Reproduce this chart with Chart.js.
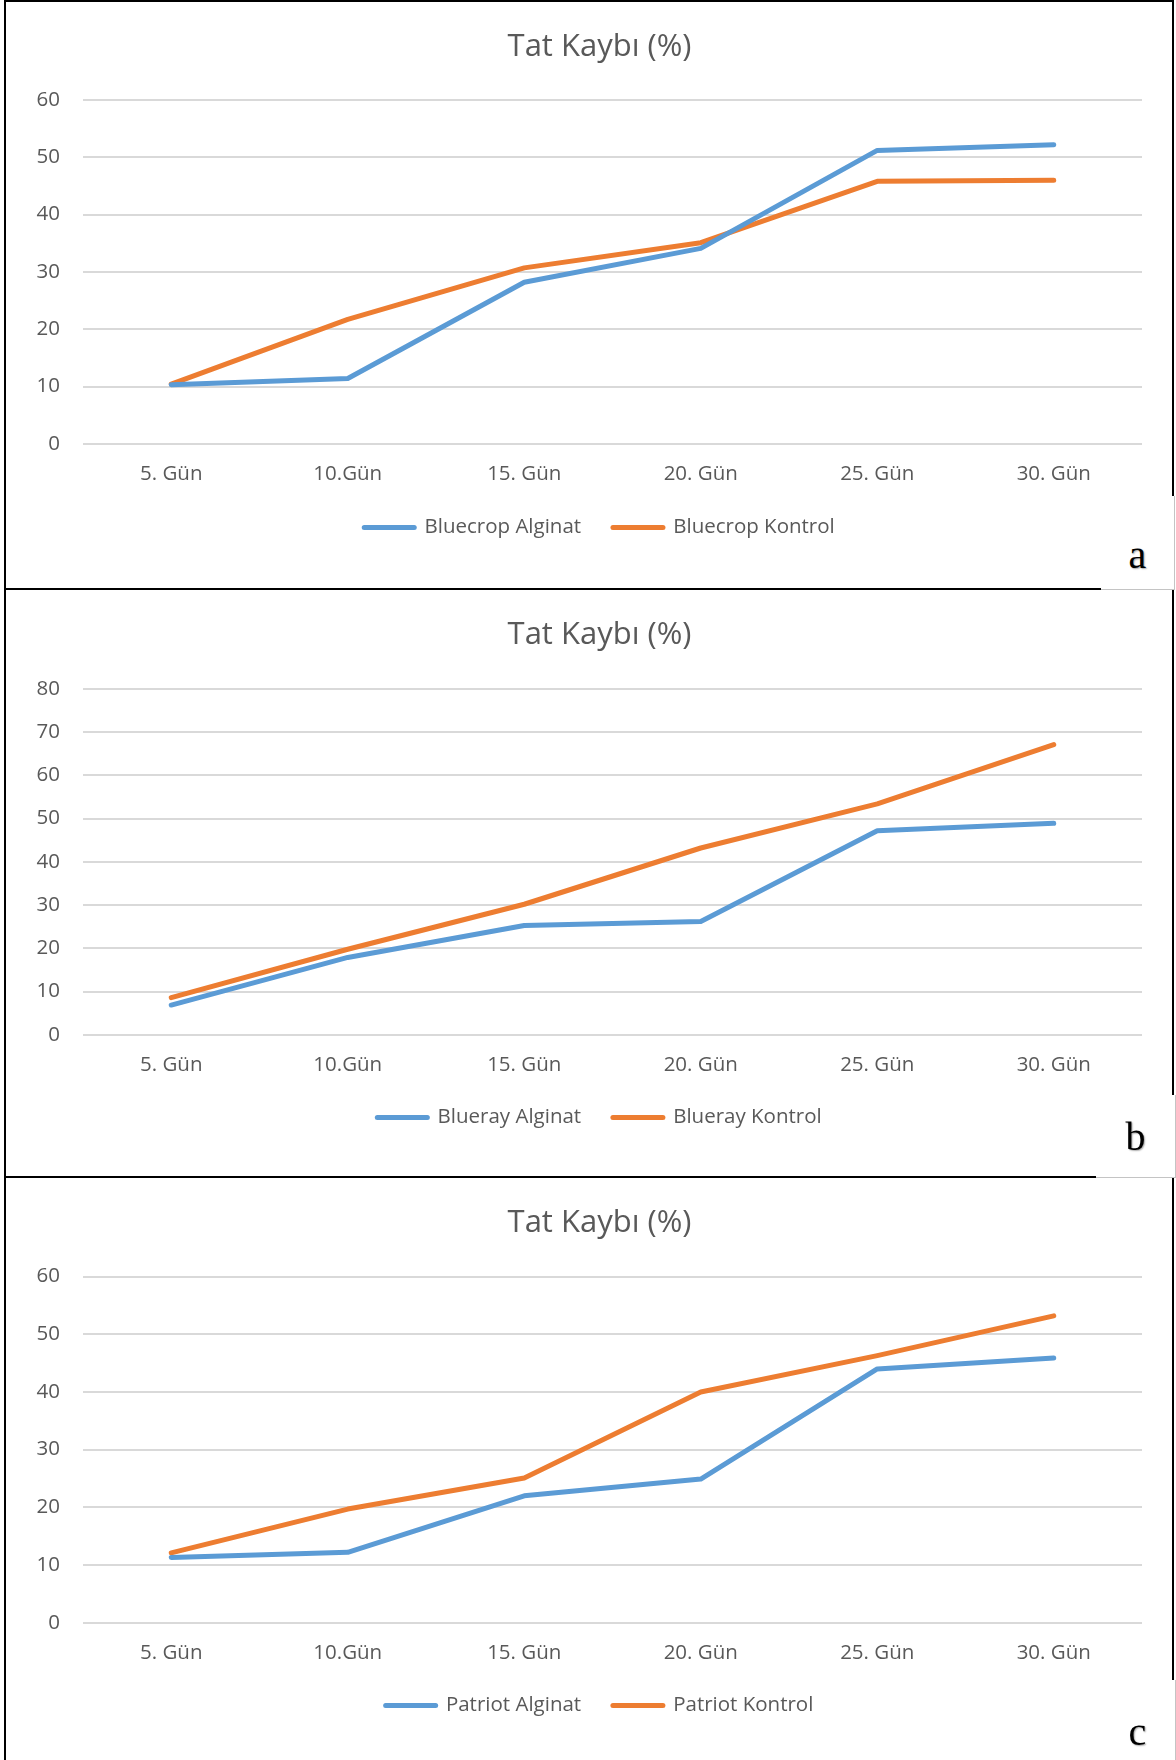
<!DOCTYPE html>
<html>
<head>
<meta charset="utf-8">
<script src="https://cdn.jsdelivr.net/npm/chart.js@4.4.1/dist/chart.umd.min.js"></script>
<style>
  html, body { margin: 0; padding: 0; background: #fff; }
  body { width: 1176px; height: 1760px; position: relative; overflow: hidden; }
  canvas.plot { position: absolute; left: 4px; }
  .frame { position: absolute; left: 4px; width: 1170px; border: 2px solid #000; box-sizing: border-box; pointer-events: none; }
  .tag { position: absolute; background: #fff; border-right: 1px solid #c4c4c4; border-bottom: 1px solid #c4c4c4; box-sizing: border-box; }
  .tag span { position: absolute; left: 0; width: 100%; text-align: center; font-family: "Liberation Serif", "DejaVu Serif", serif; font-size: 40px; line-height: 40px; color: #000; text-shadow: 1px 1px 1.5px rgba(0,0,0,0.35); }
</style>
</head>
<body>
<canvas class="plot" id="chartA" width="1169" height="588" style="top:0px"></canvas>
<canvas class="plot" id="chartB" width="1169" height="588" style="top:589px"></canvas>
<canvas class="plot" id="chartC" width="1169" height="588" style="top:1177px"></canvas>

<div class="frame" style="top:0px;height:590px"></div>
<div class="frame" style="top:588px;height:590px"></div>
<div class="frame" style="top:1176px;height:600px"></div>

<div class="tag" style="left:1101px;top:496px;width:74px;height:94px"><span style="top:39px">a</span></div>
<div class="tag" style="left:1096px;top:1095px;width:80px;height:83px"><span style="top:22px">b</span></div>
<div class="tag" style="left:1100px;top:1680px;width:76px;height:90px;border-bottom:none"><span style="top:32px">c</span></div>

<script>
// Days on the horizontal axis
const days = ['5. Gün', '10.Gün', '15. Gün', '20. Gün', '25. Gün', '30. Gün'];

// Taste loss (%) per cultivar
const bluecropAlginat = [10.3, 11.4, 28.2, 34.1, 51.2, 52.2];
const bluecropKontrol = [10.4, 21.7, 30.7, 35.1, 45.8, 46.0];
const bluerayAlginat  = [6.9, 17.9, 25.3, 26.2, 47.2, 48.9];
const bluerayKontrol  = [8.6, 19.8, 30.2, 43.2, 53.4, 67.1];
const patriotAlginat  = [11.3, 12.2, 22.0, 24.9, 44.0, 45.9];
const patriotKontrol  = [12.1, 19.7, 25.1, 40.0, 46.3, 53.2];

// Series names for each legend
const namesA = ['Bluecrop Alginat', 'Bluecrop Kontrol'];
const namesB = ['Blueray Alginat', 'Blueray Kontrol'];
const namesC = ['Patriot Alginat', 'Patriot Kontrol'];

// Value axis: top tick and tick spacing
const yMaxA = 60;
const yMaxB = 80;
const yMaxC = 60;
const yStep = 10;

const chartTitle = 'Tat Kaybı (%)';

const BLUE = '#5b9bd5';
const ORANGE = '#ed7d31';
const GREY = '#595959';
const FONT = '"Open Sans", "Noto Sans", sans-serif';
const TICK_SIZE = 20.5;
const CANVAS_H = 588;
const PAD_LEFT = 22;      // space left of the value axis
const PLOT_LEFT = 79;     // left edge of the plotting area
const PLOT_RIGHT_GAP = 31; // space right of the plotting area

function drawPanel(id, names, alginat, kontrol, yMax, geo) {
  const xAxisH = geo.xLabelPad + 21;
  const legendTop = geo.plotBottom + xAxisH;
  const legendPad = geo.legendCenter - legendTop - TICK_SIZE / 2;
  const legendH = TICK_SIZE + legendPad + 10;
  const padBottom = CANVAS_H - legendTop - legendH;

  new Chart(document.getElementById(id), {
    type: 'line',
    data: {
      labels: days,
      datasets: [
        { label: names[0], data: alginat, borderColor: BLUE, backgroundColor: BLUE, yAxisID: 'y' },
        { label: names[1], data: kontrol, borderColor: ORANGE, backgroundColor: ORANGE, yAxisID: 'y' }
      ]
    },
    options: {
      responsive: false,
      animation: false,
      devicePixelRatio: 1,
      events: [],
      layout: { padding: { left: PAD_LEFT, right: 0, top: 0, bottom: padBottom } },
      elements: {
        line: { borderWidth: 5, tension: 0, borderCapStyle: 'round', borderJoinStyle: 'round', fill: false },
        point: { radius: 0, hoverRadius: 0, borderWidth: 5 }
      },
      plugins: {
        title: {
          display: true,
          text: chartTitle,
          color: GREY,
          font: { family: FONT, size: 31, weight: 'normal' },
          padding: { top: geo.titleCenter - 18.6, bottom: geo.plotTop - geo.titleCenter - 18.6 }
        },
        legend: {
          position: 'bottom',
          labels: {
            usePointStyle: true,
            pointStyle: 'line',
            pointStyleWidth: 50,
            color: GREY,
            font: { family: FONT, size: TICK_SIZE },
            padding: legendPad,
            generateLabels: (chart) =>
              Chart.defaults.plugins.legend.labels.generateLabels(chart).map(item =>
                Object.assign(item, { lineWidth: 5, lineCap: 'round' }))
          }
        },
        tooltip: { enabled: false }
      },
      scales: {
        x: {
          offset: true,
          grid: { display: false, drawTicks: false },
          border: { display: false },
          ticks: { color: GREY, font: { family: FONT, size: TICK_SIZE, lineHeight: 1 }, padding: geo.xLabelPad, maxRotation: 0, autoSkip: false },
          afterFit: (s) => { s.height = xAxisH; }
        },
        y: {
          min: 0,
          max: yMax,
          ticks: { stepSize: yStep, color: GREY, font: { family: FONT, size: TICK_SIZE }, padding: 23 },
          grid: { color: '#d9d9d9', lineWidth: 2, drawTicks: false },
          border: { display: false },
          afterFit: (s) => { s.width = PLOT_LEFT - PAD_LEFT; }
        },
        // empty spacer on the right so the plotting area ends where the gridlines stop
        yRight: {
          position: 'right',
          display: true,
          grid: { display: false, drawTicks: false },
          border: { display: false },
          ticks: { display: false },
          afterFit: (s) => { s.width = PLOT_RIGHT_GAP; }
        }
      }
    }
  });
}

drawPanel('chartA', namesA, bluecropAlginat, bluecropKontrol, yMaxA,
  { titleCenter: 47, plotTop: 100, plotBottom: 443.8, legendCenter: 527.4, xLabelPad: 20.5 });
drawPanel('chartB', namesB, bluerayAlginat, bluerayKontrol, yMaxB,
  { titleCenter: 46, plotTop: 99.8, plotBottom: 445.9, legendCenter: 528.6, xLabelPad: 19.7 });
drawPanel('chartC', namesC, patriotAlginat, patriotKontrol, yMaxC,
  { titleCenter: 46, plotTop: 99.6, plotBottom: 445.7, legendCenter: 528.6, xLabelPad: 19.9 });
</script>
</body>
</html>
